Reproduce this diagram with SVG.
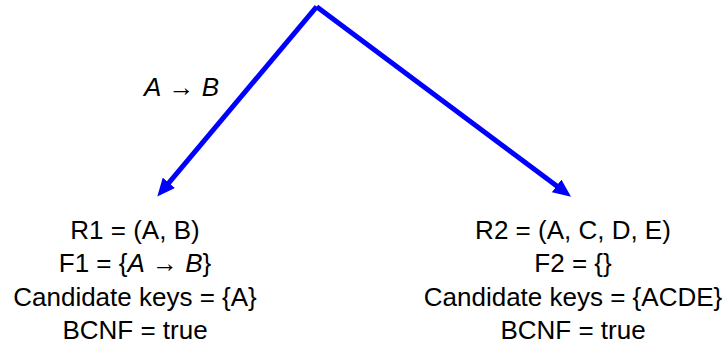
<svg xmlns="http://www.w3.org/2000/svg" width="728" height="356" viewBox="0 0 728 356">
<style>
text{font-family:"Liberation Sans",Arial,sans-serif;font-size:26px;fill:#000}
.c{text-anchor:middle}
.i{font-style:italic}
.conn{stroke:#0000FF;stroke-width:5;fill:none}
</style>
<defs>
<marker id="ah" markerUnits="userSpaceOnUse" markerWidth="18" markerHeight="16" viewBox="0 0 18 16" refX="4" refY="8" orient="auto">
<path d="M0,0 L18,8 L0,16 z" fill="#0000FF"/>
</marker>
</defs>
<g id="connectors">
<line class="conn" x1="316.7" y1="6.7" x2="166.3" y2="185.8" marker-end="url(#ah)"/>
<line class="conn" x1="316.7" y1="6.7" x2="559.8" y2="188.3" marker-end="url(#ah)"/>
<text x="144" y="96"><tspan class="i">A</tspan> → <tspan class="i">B</tspan></text>
</g>
<g id="r1">
<text class="c" x="135" y="239">R1 = (A, B)</text>
<text class="c" x="135" y="272">F1 = {<tspan class="i">A</tspan> → <tspan class="i">B</tspan>}</text>
<text class="c" x="135" y="306">Candidate keys = {A}</text>
<text class="c" x="135" y="339">BCNF = true</text>
</g>
<g id="r2">
<text class="c" x="573" y="239">R2 = (A, C, D, E)</text>
<text class="c" x="573" y="272">F2 = {}</text>
<text class="c" x="573" y="306">Candidate keys = {ACDE}</text>
<text class="c" x="573" y="339">BCNF = true</text>
</g>
</svg>
